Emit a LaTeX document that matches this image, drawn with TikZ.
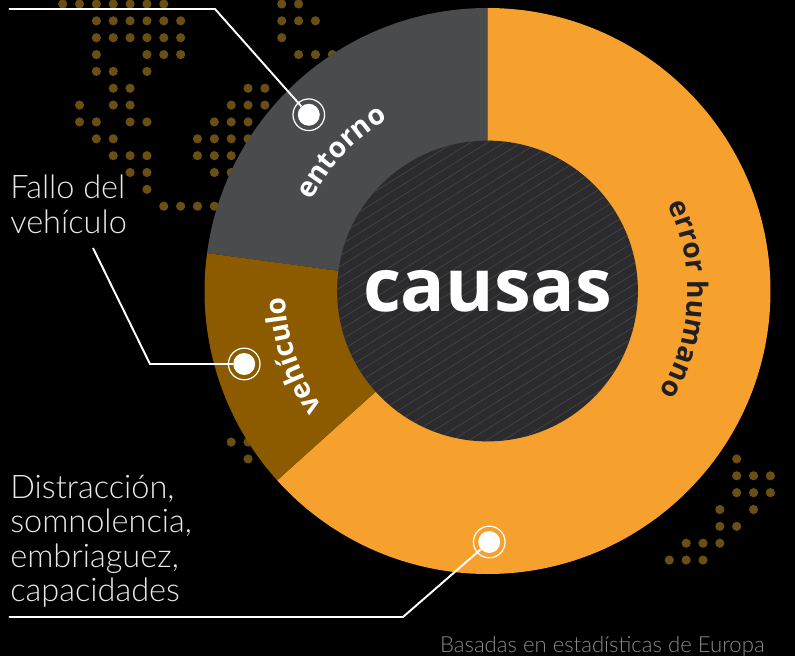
\documentclass[tikz,border=0pt]{standalone}
\usepackage{fontspec}
\usetikzlibrary{decorations.text}
\setmainfont{Open Sans}
\newfontfamily\boldfont{Open Sans}
\IfFontExistsTF{Lato Light}{\newfontfamily\thinfont{Lato Light}}{\newfontfamily\thinfont{Lato}}
\definecolor{humano}{HTML}{F6A02E}
\definecolor{vehiculo}{HTML}{8C5B00}
\definecolor{entorno}{HTML}{4A4B4D}
\definecolor{hubgray}{HTML}{2B2A2C}
\definecolor{hatchgray}{HTML}{403F42}
\definecolor{dotgold}{HTML}{6A4E14}
\definecolor{labelgray}{HTML}{E8E8E8}
\definecolor{notegray}{HTML}{8A8A8A}
\definecolor{darktext}{HTML}{231F20}
\begin{document}
\begin{tikzpicture}[x=0.02cm,y=0.02cm,
    dot/.style={fill=dotgold},
    marker/.style={circle,fill=white,inner sep=0pt,minimum size=12.5pt},
    ring/.style={draw=white,line width=0.7pt},
    callout/.style={draw=white,line width=1.1pt},
    thinlabel/.style={font=\thinfont\fontsize{18.5}{19.5}\selectfont,text=labelgray,align=left,inner sep=0pt},
    hub/.style={circle,fill=hubgray,inner sep=0pt,minimum size=171.2pt,text=white,
      font=\boldfont\bfseries\fontsize{42}{48}\selectfont}]

      \fill[black] (-487.5,-365) rectangle (307.5,291);
      \useasboundingbox (-487.5,-365) rectangle (307.5,291);

      % map dots
      \foreach \j/\cols in {0/{0,...,6,13,14},1/{2,...,7,13,14,15},2/{2,...,7,13,...,16},
        3/{2,5,6,7,14,15,16},4/{2,3,5},5/{3,4,11,12},6/{1,3,4,10,11,12},
        7/{1,2,4,5,9,10,11},8/{2,3,8,9,10,11},9/{3,4,5,8,9,10},10/{4,5,9,10},
        11/{5},12/{6,...,9},26/{10,11},27/{11,40},28/{40,41,42},29/{40,41,42},
        30/{39,41},31/{39,40},32/{37,38,39},33/{36,37,38}}
        \foreach \c in \cols
          \fill[dot] ({16.85*\c-424.8},{287-16.85*\j}) circle[radius=4.6];

      % ring
      \fill[humano] (0,0) -- (90:283) arc[start angle=90,end angle=-138,radius=283] -- cycle;
      \fill[entorno] (0,0) -- (90:283) arc[start angle=90,end angle=172.3,radius=283] -- cycle;
      \fill[vehiculo] (0,0) -- (172.3:283) arc[start angle=172.3,end angle=222,radius=283] -- cycle;

      \node[hub,path picture={
          \foreach \k in {-19,...,19}
            \draw[hatchgray,line width=0.5pt]
              ([shift={({-4.77*\k-135.7},{7.63*\k-84.8})}]path picture bounding box.center) -- ++(271.4,169.6);
        }] (hub) at (0,0) {causas};

      \path[decorate,decoration={text along path,text align=center,text color=white,
          text={|\boldfont\bfseries\fontsize{16}{19}\selectfont|entorno}}]
        (166:198) arc[start angle=166,end angle=107,radius=198];
      \path[decorate,decoration={text along path,text align=center,text color=white,
          text={|\boldfont\bfseries\fontsize{16}{19}\selectfont|vehículo}}]
        (227:202) arc[start angle=227,end angle=170,radius=202];
      \path[decorate,decoration={text along path,text align=center,text color=darktext,
          text={|\boldfont\bfseries\fontsize{16}{19}\selectfont|error humano}}]
        (40:200) arc[start angle=40,end angle=-45,radius=200];

      % markers
      \node[marker] (mEnt) at (135.4:251) {};
      \node[marker] (mVeh) at (196.7:254) {};
      \node[marker] (mHum) at (270.4:251) {};
      \foreach \m in {mEnt,mVeh,mHum}
        \draw[ring] (\m) circle[radius=9pt];

      % callouts
      \coordinate (kEnt0) at (-478.5,282);
      \coordinate (kEnt1) at (-272.5,282);
      \draw[callout] (kEnt0) -- (kEnt1) -- (mEnt);

      \node[thinlabel,anchor=north west] (tVeh) at (-477.5,116) {Fallo del\\vehículo};
      \coordinate (kVeh0) at (-394.5,43);
      \coordinate (kVeh1) at (-337.5,-73);
      \draw[callout] (kVeh0) -- (kVeh1) -- (mVeh);

      \node[thinlabel,anchor=north west] (tHum) at (-477.5,-184)
        {Distracción,\\somnolencia,\\embriaguez,\\capacidades};
      \coordinate (kHum0) at (-478.5,-326);
      \coordinate (kHum1) at (-84.5,-326);
      \draw[callout] (kHum0) -- (kHum1) -- (mHum);

      \node[font=\thinfont\fontsize{12.6}{14}\selectfont,text=notegray,anchor=base east,inner sep=0pt]
        (note) at (277.5,-361) {Basadas en estadísticas de Europa};

\end{tikzpicture}
\end{document}
